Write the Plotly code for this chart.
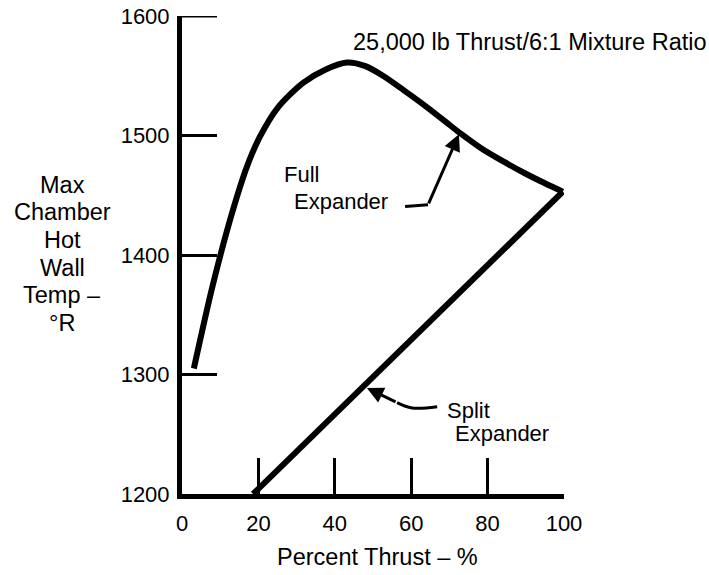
import plotly.graph_objects as go

# ---- data ----
full_x = [3.1, 8.0, 13.0, 17.0, 20.4, 25.0, 31.7, 37.5, 43.2, 48.0, 52.6, 58.0, 64.0, 70.0, 73.0, 78.0, 84.0, 90.0, 95.0, 99.7]
full_y = [1305, 1374, 1434, 1474, 1499, 1523, 1544, 1555, 1561, 1558, 1550, 1538, 1524, 1509, 1501.5, 1490, 1478.5, 1468, 1460, 1453]
split_x = [18.6, 99.7]
split_y = [1200, 1453]
x_ticks = [0, 20, 40, 60, 80, 100]
y_ticks = [1200, 1300, 1400, 1500, 1600]
y_title_lines = ["Max", "Chamber", "Hot", "Wall", "Temp –", "°R"]

FONT = "Liberation Sans, Arial, Helvetica, sans-serif"
FS = 23.5
FS_TICK = 22
FS_LBL = 22

W, H = 709, 575
L, R, T, B = 182, 145, 16, 81
PW, PH = W - L - R, H - T - B
YTICK_LEN = 35


def px(x):  # page pixel -> paper x
    return (x - L) / PW


def py(y):  # page pixel -> paper y
    return (H - B - y) / PH


fig = go.Figure()
fig.add_trace(go.Scatter(x=full_x, y=full_y, mode="lines", line=dict(color="black", width=6, shape="spline", smoothing=0.8),
                         name="Full Expander", cliponaxis=False))
fig.add_trace(go.Scatter(x=split_x, y=split_y, mode="lines", line=dict(color="black", width=6),
                         name="Split Expander", cliponaxis=False))

# leader lines (annotation callouts)
fig.add_trace(go.Scatter(x=[58.4, 64.4], y=[1440.5, 1442], mode="lines", line=dict(color="black", width=3), cliponaxis=False))
fig.add_trace(go.Scatter(x=[66.8, 60.2, 56.3], y=[1273, 1272, 1276.5], mode="lines",
                         line=dict(color="black", width=3, shape="spline"), cliponaxis=False))

lbl = dict(family=FONT, size=FS_LBL, color="black")
annos = [
    dict(x=72.5, y=1501, ax=64.4, ay=1442, xref="x", yref="y", axref="x", ayref="y",
         showarrow=True, arrowhead=2, arrowsize=1.1, arrowwidth=3, arrowcolor="black", text=""),
    dict(x=48.4, y=1288.7, ax=56.3, ay=1276.5, xref="x", yref="y", axref="x", ayref="y",
         showarrow=True, arrowhead=2, arrowsize=1.1, arrowwidth=3, arrowcolor="black", text=""),
    dict(x=26.2, y=1467, xref="x", yref="y", text="Full", showarrow=False, xanchor="left", yanchor="middle", font=lbl),
    dict(x=28.8, y=1445, xref="x", yref="y", text="Expander", showarrow=False, xanchor="left", yanchor="middle", font=lbl),
    dict(x=68.8, y=1270, xref="x", yref="y", text="Split", showarrow=False, xanchor="left", yanchor="middle", font=lbl),
    dict(x=71.0, y=1251, xref="x", yref="y", text="Expander", showarrow=False, xanchor="left", yanchor="middle", font=lbl),
    dict(x=px(351), y=py(42), xref="paper", yref="paper", text="25,000 lb Thrust/6:1 Mixture Ratio", showarrow=False,
         xanchor="left", yanchor="middle", font=dict(family=FONT, size=23.5, color="black")),
    dict(x=px(377), y=py(557), xref="paper", yref="paper", text="Percent Thrust – %", showarrow=False,
         xanchor="center", yanchor="middle"),
]
y_title_px = [185, 212.5, 240, 268, 295, 323]
for line, yy in zip(y_title_lines, y_title_px):
    annos.append(dict(x=px(62), y=py(yy), xref="paper", yref="paper", text=line, showarrow=False,
                      xanchor="center", yanchor="middle"))
for a in annos:
    a.setdefault("font", dict(family=FONT, size=FS, color="black"))
fig.update_layout(annotations=annos)

# the tick at the top of the y range is dropped by plotly at the plot edge; draw it explicitly
fig.add_shape(type="line", xref="x", yref="y", xsizemode="pixel", xanchor=0,
              x0=0, x1=YTICK_LEN, y0=y_ticks[-1], y1=y_ticks[-1],
              line=dict(color="black", width=3), layer="above")

fig.update_layout(
    width=W, height=H,
    margin=dict(l=L, r=R, t=T, b=B),
    paper_bgcolor="white", plot_bgcolor="white",
    showlegend=False,
    font=dict(family=FONT, size=FS, color="black"),
    xaxis=dict(range=[0, 100], tickvals=x_ticks, ticks="inside", ticklen=36, tickwidth=3, tickcolor="black",
               showline=True, linewidth=5, linecolor="black", showgrid=False, zeroline=False,
               tickfont=dict(family=FONT, size=FS_TICK, color="black"),
               fixedrange=True, automargin=False, ticklabelstandoff=6, ticklabeloverflow="allow"),
    yaxis=dict(range=[1200, 1600], tickvals=y_ticks, ticks="inside", ticklen=YTICK_LEN, tickwidth=3, tickcolor="black",
               showline=True, linewidth=5, linecolor="black", showgrid=False, zeroline=False,
               tickfont=dict(family=FONT, size=FS_TICK, color="black"),
               fixedrange=True, automargin=False, ticklabelstandoff=3, ticklabeloverflow="allow"),
)

# remove the browser's default 8px body margin so the figure sits at the page origin
fig.write_html("out.html", config={"displayModeBar": False},
               post_script="document.body.style.margin='0';")
